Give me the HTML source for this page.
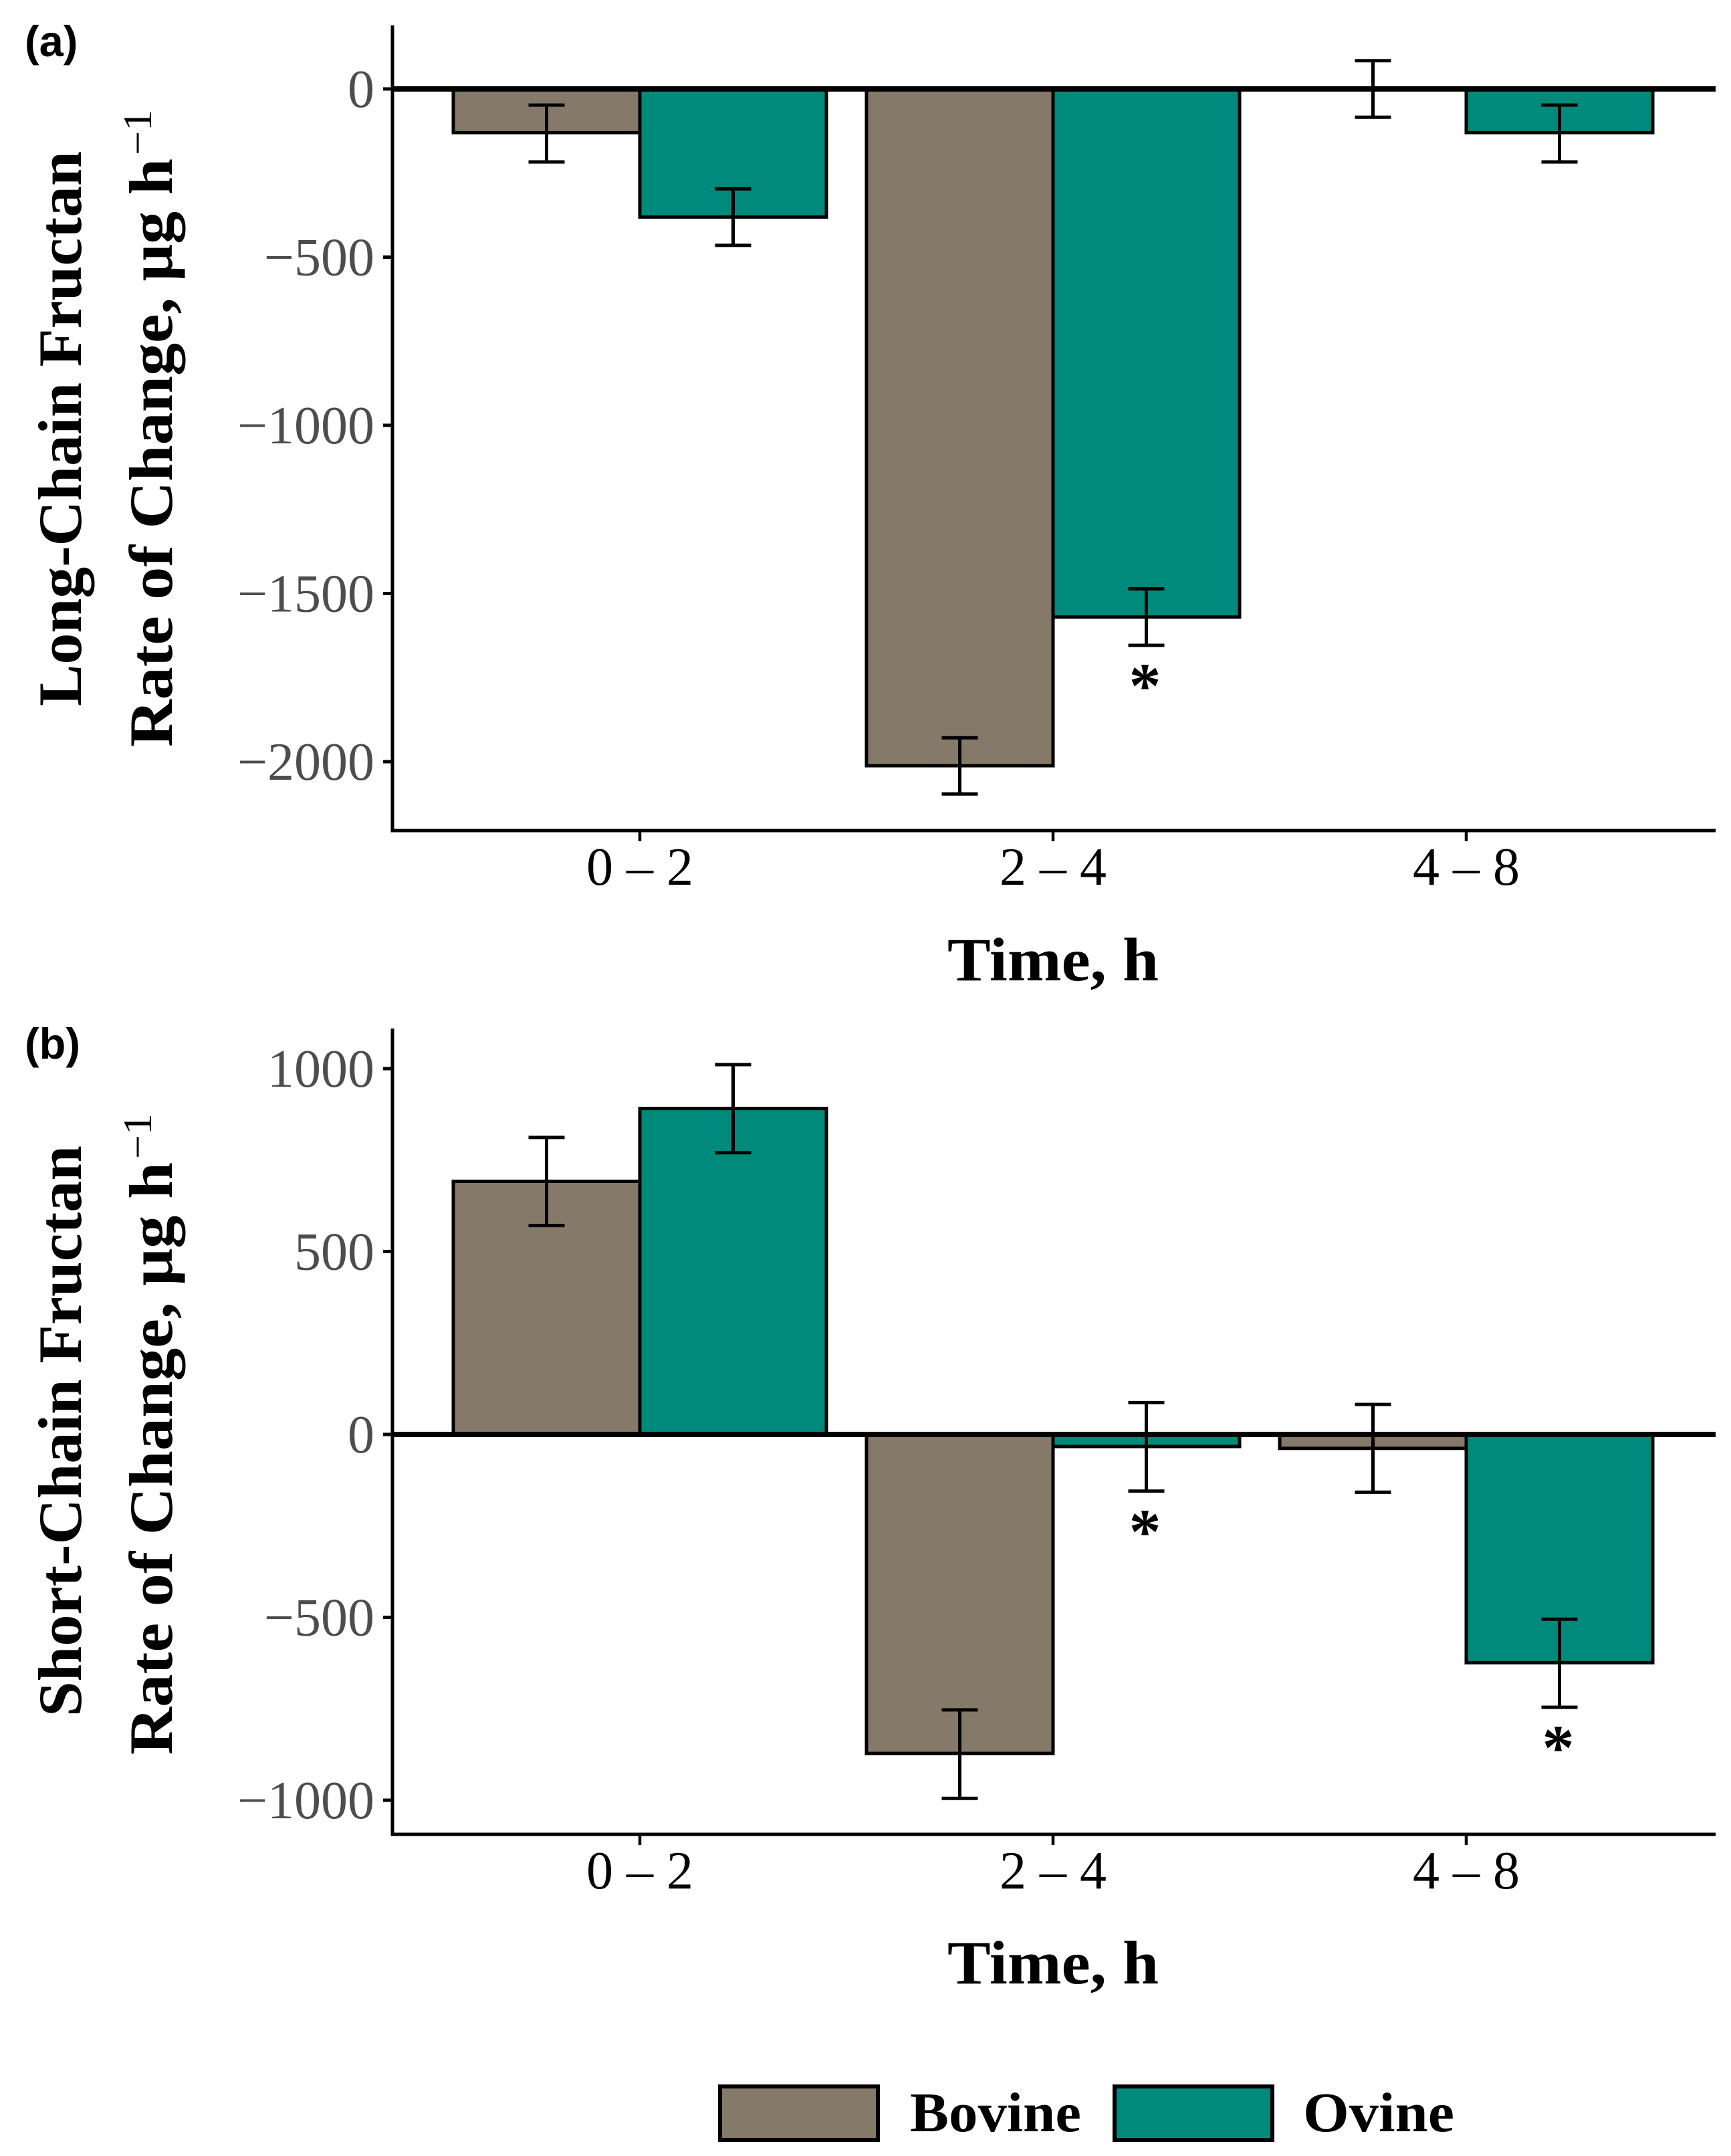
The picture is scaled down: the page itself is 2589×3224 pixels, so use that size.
<!DOCTYPE html>
<html lang="en">
<head>
<meta charset="utf-8">
<title>Fructan rate of change</title>
<style>
html,body{margin:0;padding:0;background:#fff;}
svg{display:block;}
text{font-family:"Liberation Serif",serif;}
.panel-tag{font-family:"Liberation Sans",sans-serif;font-weight:700;font-size:65px;fill:#000;}
.ytitle{font-weight:700;font-size:92px;fill:#000;}
.xtitle{font-weight:700;font-size:92px;fill:#000;}
.ytick{font-size:80px;fill:#4d4d4d;text-anchor:end;}
.xtick{font-size:80px;fill:#000;text-anchor:middle;}
.legend-text{font-weight:700;font-size:84px;fill:#000;}
.star{font-weight:700;font-size:96px;fill:#000;text-anchor:middle;}
</style>
</head>
<body>
<svg id="chart" xmlns="http://www.w3.org/2000/svg" width="2589" height="3224" viewBox="0 0 2589 3224">
  <rect x="0" y="0" width="2589" height="3224" fill="#ffffff"/>

  <text class="panel-tag" x="37" y="84">(a)</text>
  <text class="ytitle" transform="translate(121,1056) rotate(-90)" textLength="830" lengthAdjust="spacingAndGlyphs">Long-Chain Fructan</text>
  <text class="ytitle" transform="translate(257,1117) rotate(-90)" textLength="880" lengthAdjust="spacingAndGlyphs">Rate of Change, μg h</text>
  <text class="ytitle" style="font-size:60px;font-weight:400" transform="translate(226,232) rotate(-90)" textLength="68" lengthAdjust="spacingAndGlyphs">−1</text>
  <text class="xtitle" x="1417" y="1466" textLength="316" lengthAdjust="spacingAndGlyphs">Time, h</text>
  <g id="panel-a"></g>

  <text class="panel-tag" x="37" y="1583">(b)</text>
  <text class="ytitle" transform="translate(121,2567) rotate(-90)" textLength="854" lengthAdjust="spacingAndGlyphs">Short-Chain Fructan</text>
  <text class="ytitle" transform="translate(257,2624) rotate(-90)" textLength="886" lengthAdjust="spacingAndGlyphs">Rate of Change, μg h</text>
  <text class="ytitle" style="font-size:60px;font-weight:400" transform="translate(226,1733) rotate(-90)" textLength="68" lengthAdjust="spacingAndGlyphs">−1</text>
  <text class="xtitle" x="1417" y="2966" textLength="316" lengthAdjust="spacingAndGlyphs">Time, h</text>
  <g id="panel-b"></g>

  <g>
    <rect x="1077" y="3120" width="236" height="80" fill="#85796a" stroke="#000" stroke-width="6"/>
    <text class="legend-text" x="1361" y="3187" textLength="256" lengthAdjust="spacingAndGlyphs">Bovine</text>
    <rect x="1667" y="3120" width="236" height="80" fill="#008a7b" stroke="#000" stroke-width="6"/>
    <text class="legend-text" x="1949" y="3187" textLength="226" lengthAdjust="spacingAndGlyphs">Ovine</text>
  </g>
</svg>

<script>
// Shared categories
const categories = ['0 – 2', '2 – 4', '4 – 8'];
const seriesNames = ['bovine', 'ovine'];

// Panel (a): long-chain fructan
const aTicks = [0, -500, -1000, -1500, -2000];
const aBovine = [-130, -2012, 0];
const aBovineUpper = [-48, -1929, 84];
const aBovineLower = [-217, -2096, -84];
const aOvine = [-381, -1570, -130];
const aOvineUpper = [-297, -1486, -48];
const aOvineLower = [-465, -1654, -217];
const aBovineStar = [false, false, false];
const aOvineStar = [false, true, false];

// Panel (b): short-chain fructan
const bTicks = [1000, 500, 0, -500, -1000];
const bBovine = [692, -872, -38];
const bBovineUpper = [812, -753, 82];
const bBovineLower = [571, -995, -158];
const bOvine = [891, -33, -624];
const bOvineUpper = [1011, 87, -505];
const bOvineLower = [770, -155, -746];
const bBovineStar = [false, false, false];
const bOvineStar = [false, true, true];

const SVGNS = 'http://www.w3.org/2000/svg';
const COLORS = {bovine: '#85796a', ovine: '#008a7b'};

function el(parent, tag, attrs, txt) {
  const n = document.createElementNS(SVGNS, tag);
  for (const k in attrs) n.setAttribute(k, attrs[k]);
  if (txt !== undefined) n.textContent = txt;
  parent.appendChild(n);
  return n;
}

// shared x axis function
const AXIS_LEFT = 587, AXIS_RIGHT = 2566, BAR_W = 279;
function xCenter(i) { return 957 + i * 618; }

function drawPanel(id, prefix, cfg) {
  const g = document.getElementById(id);
  const y = v => cfg.zeroY - v * cfg.pxPerUnit;

  cfg.series.forEach((s, si) => {
    s.values.forEach((v, i) => {
      const left = xCenter(i) + (si === 0 ? -BAR_W : 0);
      const top = Math.min(y(v), y(0));
      const h = Math.abs(y(v) - y(0));
      const bar = el(g, 'rect', {x: left, y: top, width: BAR_W, height: h, fill: COLORS[s.name], stroke: '#000', 'stroke-width': 5});
      
      
    });
  });

  cfg.series.forEach((s, si) => {
    s.values.forEach((v, i) => {
      const cx = xCenter(i) + (si === 0 ? -BAR_W / 2 : BAR_W / 2);
      const yu = y(s.upper[i]), yl = y(s.lower[i]);
      const eb = el(g, 'path', {d: 'M' + (cx - 27) + ' ' + yu + 'H' + (cx + 27) + 'M' + cx + ' ' + yu + 'V' + yl + 'M' + (cx - 27) + ' ' + yl + 'H' + (cx + 27), fill: 'none', stroke: '#000', 'stroke-width': 5});
      
      
      if (s.stars[i]) {
        const st = el(g, 'text', {class: 'star', x: cx - 2, y: yl + 93}, '*');
        
        
      }
    });
  });

  const zero = el(g, 'line', {x1: AXIS_LEFT, x2: AXIS_RIGHT, y1: y(0), y2: y(0), stroke: '#000', 'stroke-width': 8});
  
  

  const yAxis = el(g, 'line', {x1: AXIS_LEFT, x2: AXIS_LEFT, y1: cfg.top, y2: cfg.bottom + 2.5, stroke: '#000', 'stroke-width': 5});
  
  

  const xAxis = el(g, 'line', {x1: AXIS_LEFT, x2: AXIS_RIGHT, y1: cfg.bottom, y2: cfg.bottom, stroke: '#000', 'stroke-width': 5});
  
  

  cfg.ticks.forEach(t => {
    const tick = el(g, 'line', {x1: 573, x2: AXIS_LEFT, y1: y(t), y2: y(t), stroke: '#000', 'stroke-width': 5});
    
    
    const lab = el(g, 'text', {class: 'ytick', x: 560, y: y(t) + 27}, String(t).replace('-', '−'));
    
    
  });

  categories.forEach((c, i) => {
    const tick = el(g, 'line', {x1: xCenter(i), x2: xCenter(i), y1: cfg.bottom, y2: cfg.bottom + 16, stroke: '#000', 'stroke-width': 4.5});
    
    
    const lab = el(g, 'text', {class: 'xtick', x: xCenter(i), y: cfg.bottom + 81}, c);
    
    
  });
}

drawPanel('panel-a', 'panel-a', {
  zeroY: 133, pxPerUnit: 0.503, top: 38, bottom: 1242, ticks: aTicks,
  series: [
    {name: seriesNames[0], values: aBovine, upper: aBovineUpper, lower: aBovineLower, stars: aBovineStar},
    {name: seriesNames[1], values: aOvine, upper: aOvineUpper, lower: aOvineLower, stars: aOvineStar}
  ]
});
drawPanel('panel-b', 'panel-b', {
  zeroY: 2145, pxPerUnit: 0.547, top: 1538, bottom: 2743, ticks: bTicks,
  series: [
    {name: seriesNames[0], values: bBovine, upper: bBovineUpper, lower: bBovineLower, stars: bBovineStar},
    {name: seriesNames[1], values: bOvine, upper: bOvineUpper, lower: bOvineLower, stars: bOvineStar}
  ]
});
</script>
</body>
</html>
